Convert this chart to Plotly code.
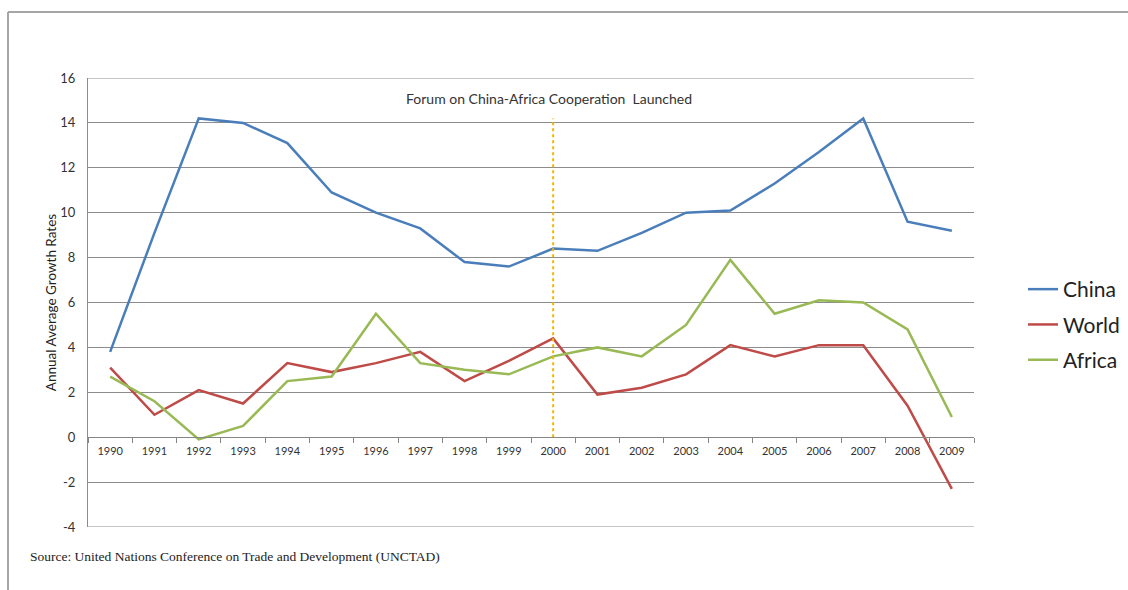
import plotly.graph_objects as go

# Annual average growth rates (%), 1990-2009
years = [str(y) for y in range(1990, 2010)]
china = [3.8, 9.1, 14.2, 14.0, 13.1, 10.9, 10.0, 9.3, 7.8, 7.6,
         8.4, 8.3, 9.1, 10.0, 10.1, 11.3, 12.7, 14.2, 9.6, 9.2]
world = [3.1, 1.0, 2.1, 1.5, 3.3, 2.9, 3.3, 3.8, 2.5, 3.4,
         4.4, 1.9, 2.2, 2.8, 4.1, 3.6, 4.1, 4.1, 1.4, -2.3]
africa = [2.7, 1.6, -0.1, 0.5, 2.5, 2.7, 5.5, 3.3, 3.0, 2.8,
          3.6, 4.0, 3.6, 5.0, 7.9, 5.5, 6.1, 6.0, 4.8, 0.9]

y_ticks = [-4, -2, 0, 2, 4, 6, 8, 10, 12, 14, 16]
y_ticktext = [str(v) for v in y_ticks]  # plain hyphen for negatives

event_year = "2000"
event_top = 14.2
event_text = "Forum on China-Africa Cooperation  Launched"
source_text = "Source: United Nations Conference on Trade and Development (UNCTAD)"

W, H = 1128, 590
L, R, T, B = 88, 154, 78, 63
pw, ph = W - L - R, H - T - B


def px_x(p):
    return (p - L) / pw


def px_y(p):
    return (H - B - p) / ph


fig = go.Figure()

series = [("China", china, "#4A7EBB"),
          ("World", world, "#BE4B48"),
          ("Africa", africa, "#98B954")]
for name, vals, col in series:
    fig.add_trace(go.Scatter(
        x=years, y=vals, name=name, mode="lines",
        line=dict(color=col, width=2.5), legendgroup=name,
    ))

# dotted marker for the 2000 launch of FOCAC
fig.add_trace(go.Scatter(
    x=[event_year, event_year], y=[0, event_top], mode="lines",
    line=dict(color="#F2B705", width=2, dash="dot"),
    showlegend=False, hoverinfo="skip",
))

fig.add_annotation(
    x=years.index(event_year), y=15.1, xref="x", yref="y",
    text=event_text, showarrow=False,
    font=dict(family="Lato", size=14, color="#333333"),
    xanchor="center", yanchor="middle", xshift=-4.5,
)

fig.add_annotation(
    x=px_x(28), y=px_y(556), xref="paper", yref="paper",
    text=source_text, showarrow=False,
    font=dict(family="Liberation Serif", size=13.5, color="#222222"),
    xanchor="left", yanchor="middle",
)

# grid lines at the range limits
for yv in (y_ticks[0], y_ticks[-1]):
    fig.add_shape(type="line", xref="paper", yref="y", x0=0, x1=1,
                  y0=yv, y1=yv, line=dict(color="#8C8C8C", width=1),
                  layer="below")

# outer frame (top and left edges)
frame = dict(color="#A6A6A6", width=2)
fig.add_shape(type="line", xref="paper", yref="paper",
              x0=px_x(8), x1=px_x(1130), y0=px_y(12), y1=px_y(12), line=frame)
fig.add_shape(type="line", xref="paper", yref="paper",
              x0=px_x(8), x1=px_x(8), y0=px_y(12), y1=px_y(600), line=frame)

ymin, ymax = y_ticks[0], y_ticks[-1]
fig.update_layout(
    width=W, height=H,
    margin=dict(l=L, r=R, t=T, b=B, autoexpand=False),
    paper_bgcolor="white", plot_bgcolor="white",
    font=dict(family="Lato", color="#333333"),
    showlegend=True,
    legend=dict(
        x=px_x(1023), y=px_y(269), xanchor="left", yanchor="top",
        font=dict(family="Lato", size=21, color="#222222"),
        tracegroupgap=5, bgcolor="rgba(0,0,0,0)",
    ),
    xaxis=dict(
        type="category", anchor="free",
        position=(0 - ymin) / (ymax - ymin),
        showgrid=False, showline=True, linecolor="#868686", linewidth=1,
        tickson="boundaries", ticks="outside", ticklen=5,
        tickcolor="#868686", ticklabelstandoff=4,
        tickfont=dict(family="Lato", size=11, color="#333333"),
        range=[-0.5, len(years) - 0.5],
    ),
    yaxis=dict(
        range=[ymin, ymax], tickvals=y_ticks, ticktext=y_ticktext,
        showgrid=True, gridcolor="#8C8C8C", gridwidth=1,
        zeroline=False, showline=True, linecolor="#8C8C8C", linewidth=1,
        ticks="", ticklabelstandoff=9,
        tickfont=dict(family="Lato", size=13, color="#333333"),
        title=dict(text="Annual Average Growth Rates",
                   font=dict(family="Lato", size=13.5, color="#222222"),
                   standoff=0),
    ),
)

fig.write_html("out.html")
